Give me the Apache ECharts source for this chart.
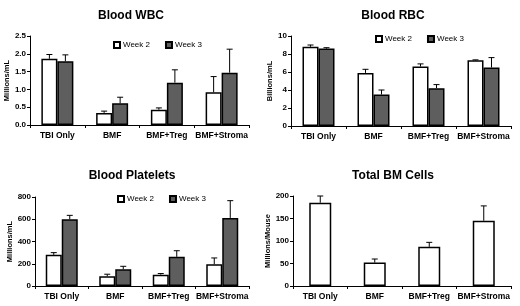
<!DOCTYPE html>
<html>
<head>
<meta charset="utf-8">
<script src="https://cdn.jsdelivr.net/npm/echarts@6/dist/echarts.min.js"></script>
<style>html,body{margin:0;padding:0;background:#fff}#chart{width:520px;height:306px}</style>
</head>
<body>
<div id="chart"></div>
<script>
// groups on the x axis
const groups = ['TBI Only', 'BMF', 'BMF+Treg', 'BMF+Stroma'];

// Blood WBC (Millions/mL)
const wbcWk2 = [1.86, 0.34, 0.43, 0.92];
const wbcWk2Err = [0.12, 0.05, 0.05, 0.44];
const wbcWk3 = [1.79, 0.61, 1.19, 1.47];
const wbcWk3Err = [0.18, 0.17, 0.36, 0.66];

// Blood RBC (Billions/mL)
const rbcWk2 = [8.8, 5.9, 6.6, 7.3];
const rbcWk2Err = [0.2, 0.4, 0.3, 0.05];
const rbcWk3 = [8.6, 3.5, 4.2, 6.5];
const rbcWk3Err = [0.1, 0.5, 0.4, 1.1];

// Blood Platelets (Millions/mL)
const pltWk2 = [280, 88, 102, 195];
const pltWk2Err = [20, 18, 10, 57];
const pltWk3 = [600, 150, 262, 612];
const pltWk3Err = [35, 27, 55, 155];

// Total BM Cells (Millions/Mouse)
const bmCells = [185, 52, 87, 145];
const bmCellsErr = [15, 8, 10, 33];

const FONT = '"Liberation Sans", Arial, sans-serif';
const DARK = '#5e5e5e';

const errItem = (offset) => (params, api) => {
  const i = api.value(0);
  const v = api.value(1);
  const e = api.value(2);
  const p0 = api.coord([i, v]);
  const p1 = api.coord([i, v + e]);
  const x = p0[0] + offset;
  const st = { stroke: '#000', lineWidth: 1 };
  return {
    type: 'group',
    children: [
      { type: 'line', shape: { x1: x, y1: p0[1], x2: x, y2: p1[1] }, style: st },
      { type: 'line', shape: { x1: x - 3, y1: p1[1], x2: x + 3, y2: p1[1] }, style: st }
    ]
  };
};

const grids = [
  { left: 30, top: 36, width: 219, height: 89 },
  { left: 291, top: 36, width: 220, height: 90 },
  { left: 35, top: 197, width: 214, height: 89 },
  { left: 293, top: 196, width: 218, height: 90 }
];

const xAxis = grids.map((_, k) => ({
  type: 'category',
  gridIndex: k,
  data: groups,
  axisLine: { lineStyle: { color: '#000', width: 1 } },
  axisTick: { show: true, length: 3, lineStyle: { color: '#000' } },
  axisLabel: { interval: 0, color: '#000', fontFamily: FONT, fontWeight: 'bold', fontSize: 8.5, margin: 6 }
}));

const yDefs = [
  { name: 'Millions/mL', max: 2.5, interval: 0.5, fmt: v => v.toFixed(1) },
  { name: 'Billions/mL', max: 10, interval: 2, fmt: v => String(v) },
  { name: 'Millions/mL', max: 800, interval: 200, fmt: v => String(v) },
  { name: 'Millions/Mouse', max: 200, interval: 50, fmt: v => String(v) }
];

const yAxis = yDefs.map((d, k) => ({
  type: 'value',
  gridIndex: k,
  min: 0,
  max: d.max,
  interval: d.interval,
  name: d.name,
  nameLocation: 'middle',
  nameGap: k === 3 ? 20 : 17,
  nameRotate: 90,
  nameTextStyle: { color: '#000', fontFamily: FONT, fontWeight: 'bold', fontSize: 7.5 },
  splitLine: { show: false },
  axisLine: { show: true, lineStyle: { color: '#000', width: 1 } },
  axisTick: { show: true, length: 3, lineStyle: { color: '#000' } },
  axisLabel: { color: '#000', fontFamily: FONT, fontWeight: 'bold', fontSize: 8, margin: 4, formatter: d.fmt }
}));

const barStyle = (color) => ({ color, borderColor: '#000', borderWidth: 1.5 });

const pairs = [
  [wbcWk2, wbcWk2Err, wbcWk3, wbcWk3Err],
  [rbcWk2, rbcWk2Err, rbcWk3, rbcWk3Err],
  [pltWk2, pltWk2Err, pltWk3, pltWk3Err]
];

const series = [];
pairs.forEach(([a, ae, b, be], k) => {
  series.push(
    { name: 'Week 2', type: 'bar', xAxisIndex: k, yAxisIndex: k, data: a, barWidth: 16, barGap: '0%', itemStyle: barStyle('#fff') },
    { name: 'Week 3', type: 'bar', xAxisIndex: k, yAxisIndex: k, data: b, barWidth: 16, barGap: '0%', itemStyle: barStyle(DARK) },
    { type: 'custom', xAxisIndex: k, yAxisIndex: k, z: 3, renderItem: errItem(-8), data: a.map((v, i) => [i, v, ae[i]]) },
    { type: 'custom', xAxisIndex: k, yAxisIndex: k, z: 3, renderItem: errItem(8), data: b.map((v, i) => [i, v, be[i]]) }
  );
});
series.push(
  { name: 'BM', type: 'bar', xAxisIndex: 3, yAxisIndex: 3, data: bmCells, barWidth: 22, itemStyle: barStyle('#fff') },
  { type: 'custom', xAxisIndex: 3, yAxisIndex: 3, z: 3, renderItem: errItem(0), data: bmCells.map((v, i) => [i, v, bmCellsErr[i]]) }
);

const titleStyle = { color: '#000', fontFamily: FONT, fontWeight: 'bold', fontSize: 12 };
const title = [
  { text: 'Blood WBC', left: 126, top: 5 },
  { text: 'Blood RBC', left: 388, top: 5 },
  { text: 'Blood Platelets', left: 127, top: 165 },
  { text: 'Total BM Cells', left: 388, top: 165 }
].map(t => ({ ...t, textAlign: 'center', textStyle: titleStyle }));

const legendBase = {
  data: ['Week 2', 'Week 3'],
  orient: 'horizontal',
  icon: 'rect',
  itemWidth: 6,
  itemHeight: 6,
  itemGap: 15,
  selectedMode: false,
  textStyle: { color: '#000', fontFamily: FONT, fontSize: 8, padding: [0, 0, 0, -2] }
};
const legend = [
  { ...legendBase, left: 108, top: 36 },
  { ...legendBase, left: 370, top: 30 },
  { ...legendBase, left: 112, top: 190 }
];

const chart = echarts.init(document.getElementById('chart'), null, { renderer: 'canvas' });
chart.setOption({
  animation: false,
  backgroundColor: '#fff',
  title,
  legend,
  grid: grids.map(g => ({ ...g, outerBoundsMode: 'none' })),
  xAxis,
  yAxis,
  series
});
</script>
</body>
</html>
